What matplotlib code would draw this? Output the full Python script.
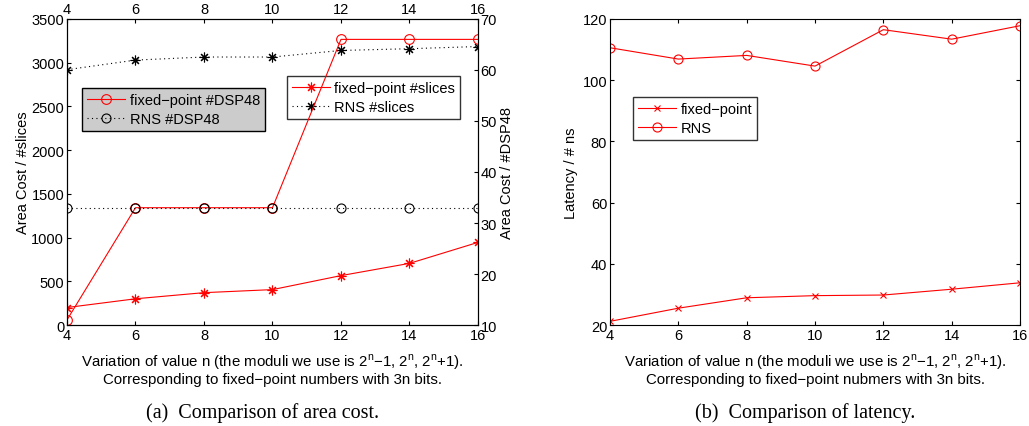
import numpy as np
import matplotlib.pyplot as plt

plt.rcParams['font.family'] = ['Liberation Sans', 'DejaVu Sans']
plt.rcParams['mathtext.fontset'] = 'custom'
plt.rcParams['mathtext.rm'] = 'Liberation Sans'
plt.rcParams['font.size'] = 10
plt.rcParams['xtick.direction'] = 'in'
plt.rcParams['ytick.direction'] = 'in'
plt.rcParams['xtick.major.size'] = 3
plt.rcParams['ytick.major.size'] = 3
plt.rcParams['axes.linewidth'] = 0.8

n_vals = [4, 6, 8, 10, 12, 14, 16]

# area cost (slices on the left axis, DSP48 on the right axis)
fixed_slices = [200, 300, 370, 405, 565, 705, 945]
rns_slices = [2920, 3030, 3065, 3065, 3140, 3160, 3185]
fixed_dsp = [11, 33, 33, 33, 66, 66, 66]
rns_dsp = [33, 33, 33, 33, 33, 33, 33]

# latency in ns
fixed_lat = [21.2, 25.5, 28.9, 29.6, 29.8, 31.7, 33.8]
rns_lat = [110.6, 106.9, 108.1, 104.6, 116.5, 113.4, 117.8]

xlabel_a = ("Variation of value n (the moduli we use is 2$^{\\mathrm{n}}$\u22121, 2$^{\\mathrm{n}}$, 2$^{\\mathrm{n}}$+1).\n"
            "Corresponding to fixed\u2212point numbers with 3n bits.")
xlabel_b = ("Variation of value n (the moduli we use is 2$^{\\mathrm{n}}$\u22121, 2$^{\\mathrm{n}}$, 2$^{\\mathrm{n}}$+1).\n"
            "Corresponding to fixed\u2212point nubmers with 3n bits.")

asterisk = (8, 2, 0)
red = '#ff0000'
leg_kw = dict(loc='upper left', frameon=True, fancybox=False, edgecolor='k',
              handlelength=2.6, borderpad=0.35, labelspacing=0.35,
              handletextpad=0.3, borderaxespad=0, fontsize=10.5)

fig = plt.figure(figsize=(10.29, 4.27), dpi=100)

# ---- (a) area cost ----
ax = fig.add_axes([0.0651, 0.2365, 0.3994, 0.7167])
ax.plot(n_vals, fixed_slices, color=red, lw=0.8, marker=asterisk, ms=7, mew=0.8)
ax.plot(n_vals, rns_slices, color='k', lw=0.8, ls=(0, (1, 3)), marker=asterisk, ms=7, mew=0.8)
ax.set_xlim(4, 16)
ax.set_ylim(0, 3500)
ax.set_xticks(n_vals)
ax.set_yticks(np.arange(0, 3501, 500))
ax.tick_params(top=True, labeltop=True, labelsize=10.5, pad=2)
ax.set_ylabel('Area Cost / #slices', fontsize=10.5, labelpad=1)
ax.set_xlabel(xlabel_a, fontsize=10.8, linespacing=1.05, labelpad=7)
leg1 = ax.legend(['fixed\u2212point #slices', 'RNS #slices'],
                 bbox_to_anchor=(0.535, 0.815), **leg_kw)
leg1.get_frame().set_linewidth(1.0)

ax2 = ax.twinx()
ax2.plot(n_vals, fixed_dsp, color=red, lw=0.8, marker='o', ms=7, mfc='none', mew=0.8)
ax2.plot(n_vals, rns_dsp, color='k', lw=0.8, ls=(0, (1, 3)), marker='o', ms=6.5, mfc='none', mew=0.8)
ax2.set_ylim(10, 70)
ax2.set_yticks(np.arange(10, 71, 10))
ax2.tick_params(labelsize=10.5, pad=2)
ax2.set_ylabel('Area Cost / #DSP48', fontsize=10.5, labelpad=2)
leg2 = ax2.legend(['fixed\u2212point #DSP48', 'RNS #DSP48'],
                  bbox_to_anchor=(0.037, 0.775), facecolor='#cccccc', framealpha=1,
                  **leg_kw)
leg2.get_frame().set_linewidth(1.0)

# ---- (b) latency ----
bx = fig.add_axes([0.5928, 0.2365, 0.3985, 0.7167])
bx.plot(n_vals, fixed_lat, color=red, lw=0.8, marker='x', ms=4, mew=0.8, label='fixed\u2212point')
bx.plot(n_vals, rns_lat, color=red, lw=0.8, marker='o', ms=6.5, mfc='none', mew=0.8, label='RNS')
bx.set_xlim(4, 16)
bx.set_ylim(20, 120)
bx.set_xticks(n_vals)
bx.set_yticks(np.arange(20, 121, 20))
bx.tick_params(top=True, right=True, labelsize=10.5, pad=2)
bx.set_ylabel('Latency / # ns', fontsize=10.5, labelpad=3)
bx.set_xlabel(xlabel_b, fontsize=10.8, linespacing=1.05, labelpad=7)
leg3 = bx.legend(bbox_to_anchor=(0.056, 0.745), **leg_kw)
leg3.get_frame().set_linewidth(1.0)

fig.text(0.2555, 0.033, '(a)  Comparison of area cost.', ha='center', va='center',
         family='Liberation Serif', fontsize=14.5)
fig.text(0.7823, 0.033, '(b)  Comparison of latency.', ha='center', va='center',
         family='Liberation Serif', fontsize=14.5)

fig.savefig('out.png', dpi=100)
